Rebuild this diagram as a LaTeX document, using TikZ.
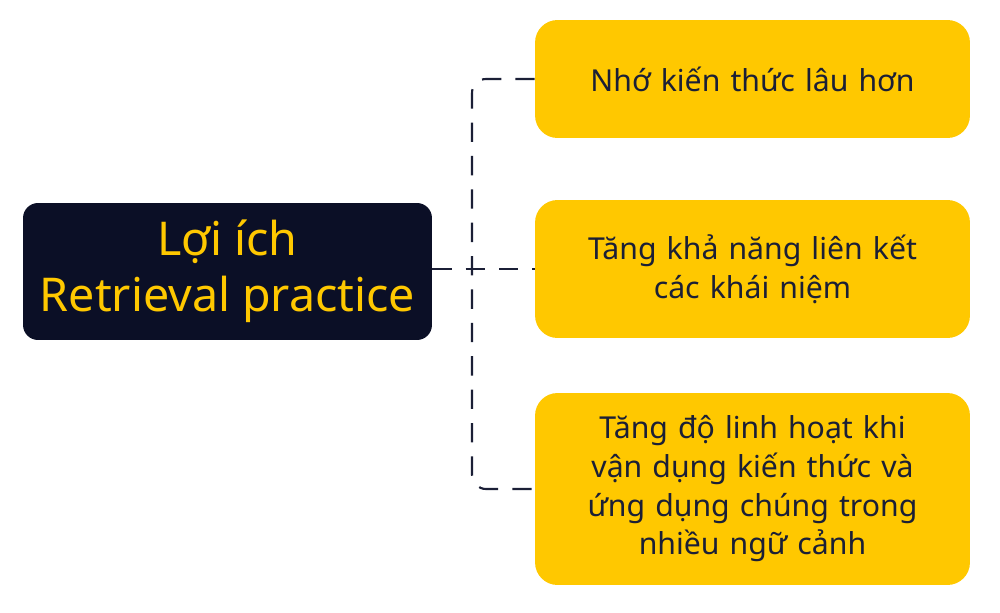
\documentclass[tikz,border=0pt]{standalone}
\usepackage{fontspec}
\setmainfont{Noto Sans}
\usetikzlibrary{calc, positioning}
\definecolor{navy}{HTML}{0B0F26}
\definecolor{gold}{HTML}{FFC800}
\definecolor{ink}{HTML}{1B1F36}

\tikzset{
	lead/.style={fill=navy, rounded corners=0.3cm, minimum width=8.18cm, minimum height=2.74cm, text=gold, align=center, font=\fontsize{26.5}{32}\selectfont},
	benefit/.style={fill=gold, rounded corners=0.45cm, minimum width=8.7cm, text width=7.6cm, text=ink, align=center, font=\fontsize{17.2}{22}\selectfont},
	conn/.style={draw=ink, line width=1.2pt, dash pattern=on 11pt off 8pt}
}

\begin{document}
\begin{tikzpicture}[x=0.02cm, y=-0.02cm]
	\useasboundingbox (0, 0) rectangle (1000, 612);
	
	\node[lead] (main) at (227.5, 271.5) {Lợi ích\\Retrieval practice};
	
	\node[benefit, minimum height=2.36cm] (b1) at (752.5, 79) {Nhớ kiến thức lâu hơn};
	\node[benefit, minimum height=2.76cm] (b2) at (752.5, 269) {Tăng khả năng liên kết\\các khái niệm};
	\node[benefit, minimum height=3.84cm] (b3) at (752.5, 489) {Tăng độ linh hoạt khi\\vận dụng kiến thức và\\ứng dụng chúng trong\\nhiều ngữ cảnh};
	
	\coordinate (spine) at (472, 270);
	
	\draw[conn] (main.east |- b2.west) -- (b2.west);
	\draw[conn, rounded corners=8pt] (b1.west) -| (spine) |- (b3.west);
\end{tikzpicture}
\end{document}
